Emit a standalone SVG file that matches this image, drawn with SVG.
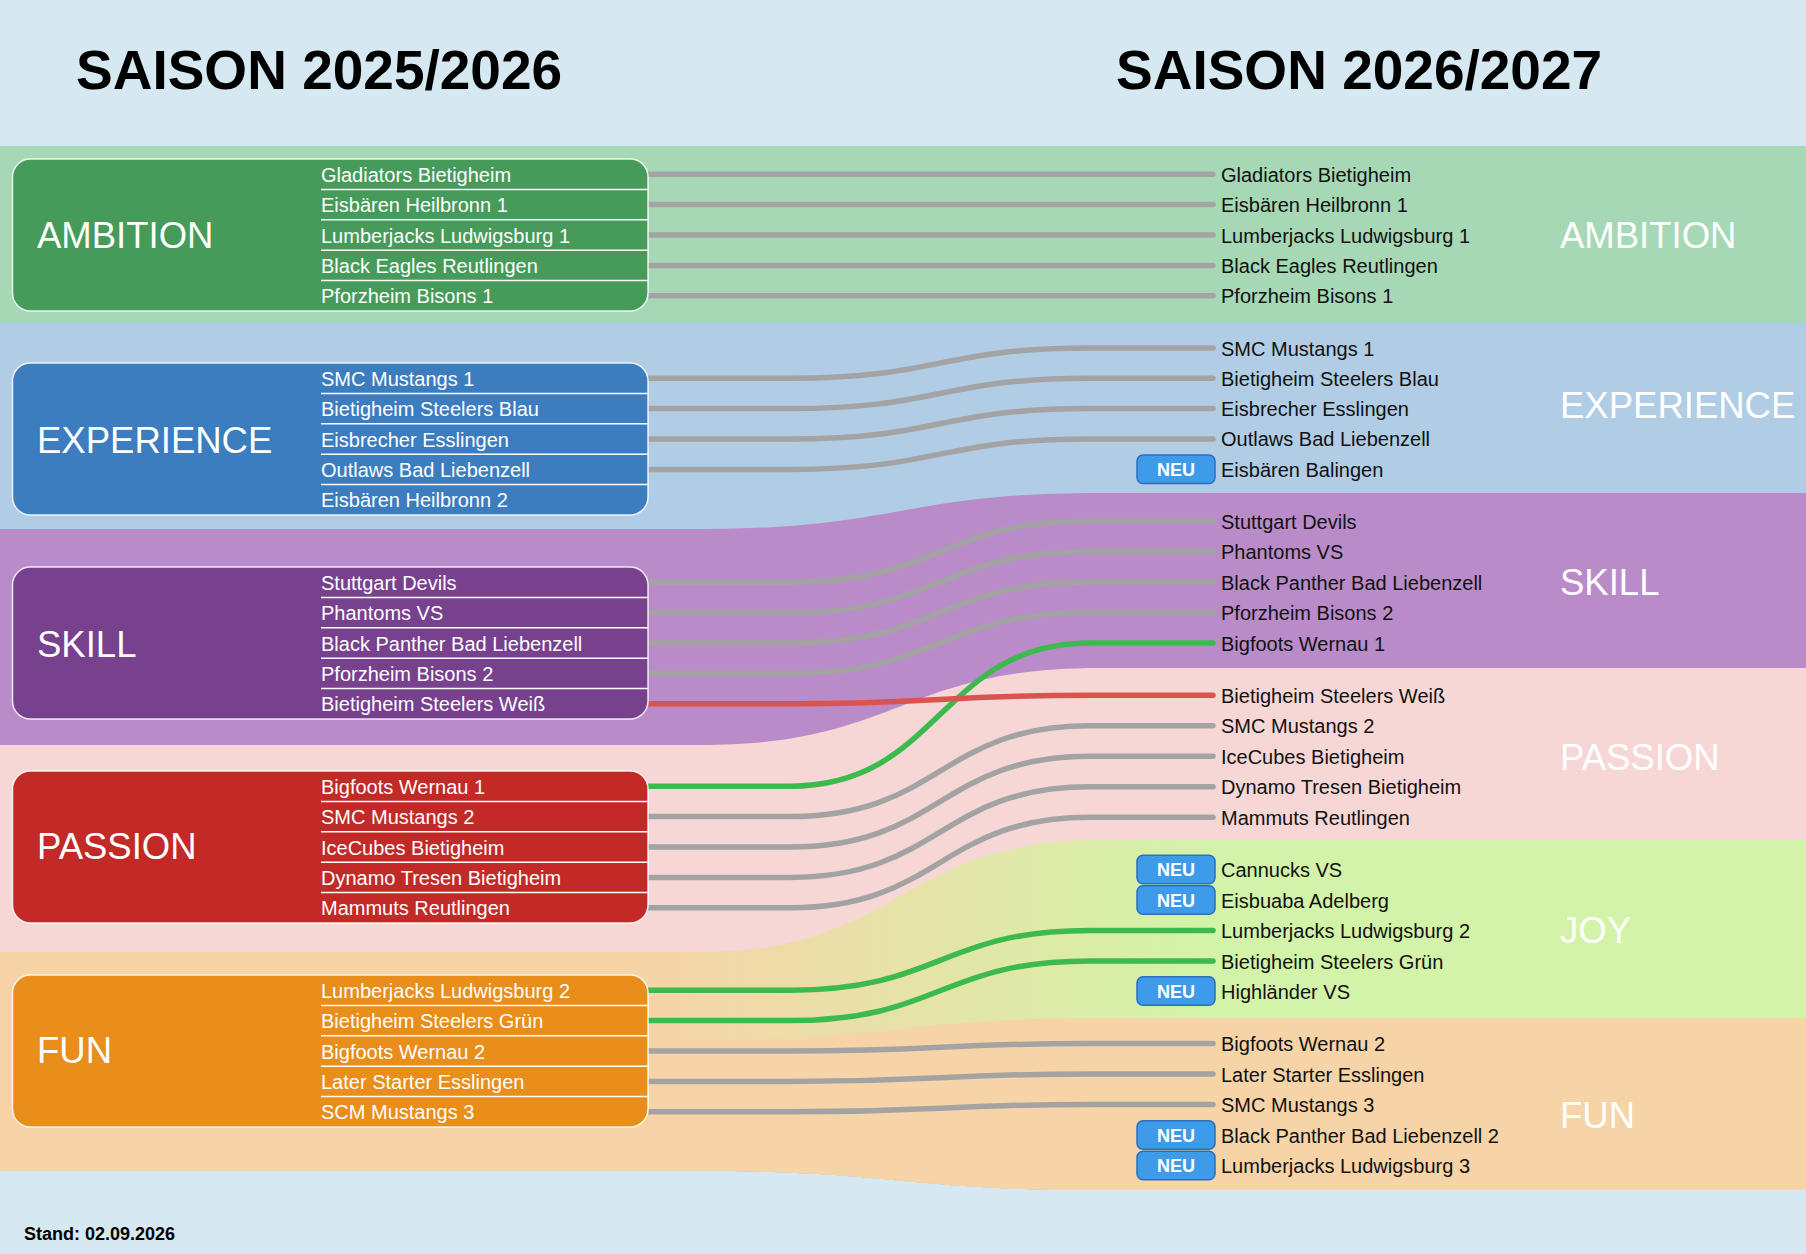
<svg xmlns="http://www.w3.org/2000/svg" width="1806" height="1254" viewBox="0 0 1806 1254">
<defs>
<linearGradient id="joyGrad" gradientUnits="userSpaceOnUse" x1="650" y1="0" x2="1200" y2="0">
<stop offset="0" stop-color="#f6d4a8"/>
<stop offset="1" stop-color="#d3f3a8"/>
</linearGradient>
<style>
text{font-family:"Liberation Sans",Arial,Helvetica,sans-serif}
.title{font-size:55px;font-weight:bold;fill:#000}
.stand{font-size:18px;font-weight:bold;fill:#000}
.grp{font-size:36.5px;fill:#fff}
.tl{font-size:20px;fill:#fff}
.tr{font-size:20px;fill:#111}
.box{stroke:#ffffff;stroke-opacity:0.85;stroke-width:1.5}
.sep{stroke:#ffffff;stroke-width:1.5}
.con{fill:none;stroke-width:5.5;stroke-linecap:round}
.gray{stroke:#a3a3a3}
.green{stroke:#3dba4e}
.red{stroke:#d9534f}
.neu rect{fill:#3d9be9;stroke:#2b6fbf;stroke-width:1.5}
.neu text{font-size:18px;font-weight:bold;fill:#fff;text-anchor:middle}
</style>
</defs>
<rect width="1806" height="1254" fill="#d6e8f2"/>

<g id="bands">
<path d="M0,146 H1806 V1190 H1100 C900,1190 900,1171 700,1171 H0 Z" fill="#a6d8b6"/>
<path d="M0,323 H1806 V1190 H1100 C900,1190 900,1171 700,1171 H0 Z" fill="#b0cde5"/>
<path d="M0,529 H700 C900,529 900,493 1100,493 H1806 V1190 H1100 C900,1190 900,1171 700,1171 H0 Z" fill="#b98cc9"/>
<path d="M0,745 H700 C900,745 900,668 1100,668 H1806 V1190 H1100 C900,1190 900,1171 700,1171 H0 Z" fill="#f6d7d6"/>
<path d="M0,952 H700 C900,952 900,840 1100,840 H1806 V1190 H1100 C900,1190 900,1171 700,1171 H0 Z" fill="url(#joyGrad)"/>
<path d="M0,1040 H700 C900,1040 900,1018 1100,1018 H1806 V1190 H1100 C900,1190 900,1171 700,1171 H0 Z" fill="#f6d4a8"/>
</g>

<g id="titles">
<text class="title" x="76" y="89">SAISON 2025/2026</text>
<text class="title" x="1116" y="89">SAISON 2026/2027</text>
<text class="stand" x="24" y="1240">Stand: 02.09.2026</text>
</g>

<g id="connectors">
<path class="con gray" d="M645,174.2 H1213"/>
<path class="con gray" d="M645,204.6 H1213"/>
<path class="con gray" d="M645,235 H1213"/>
<path class="con gray" d="M645,265.4 H1213"/>
<path class="con gray" d="M645,295.8 H1213"/>
<path class="con gray" d="M645,378.2 H790 C940,378.2 940,348 1090,348 H1213"/>
<path class="con gray" d="M645,408.6 H790 C940,408.6 940,378.3 1090,378.3 H1213"/>
<path class="con gray" d="M645,439 H790 C940,439 940,408.6 1090,408.6 H1213"/>
<path class="con gray" d="M645,469.4 H790 C940,469.4 940,438.9 1090,438.9 H1213"/>
<path class="con gray" d="M645,582.2 H790 C940,582.2 940,521 1090,521 H1213"/>
<path class="con gray" d="M645,612.6 H790 C940,612.6 940,551.5 1090,551.5 H1213"/>
<path class="con gray" d="M645,643 H790 C940,643 940,582 1090,582 H1213"/>
<path class="con gray" d="M645,673.4 H790 C940,673.4 940,612.5 1090,612.5 H1213"/>
<path class="con green" d="M645,786.2 H790 C940,786.2 940,643 1090,643 H1213"/>
<path class="con gray" d="M645,816.6 H790 C940,816.6 940,725.8 1090,725.8 H1213"/>
<path class="con gray" d="M645,847 H790 C940,847 940,756.3 1090,756.3 H1213"/>
<path class="con gray" d="M645,877.4 H790 C940,877.4 940,786.8 1090,786.8 H1213"/>
<path class="con gray" d="M645,907.8 H790 C940,907.8 940,817.3 1090,817.3 H1213"/>
<path class="con red" d="M645,703.8 H790 C940,703.8 940,695.3 1090,695.3 H1213"/>
<path class="con green" d="M645,990.2 H790 C940,990.2 940,930.5 1090,930.5 H1213"/>
<path class="con green" d="M645,1020.6 H790 C940,1020.6 940,961 1090,961 H1213"/>
<path class="con gray" d="M645,1051 H790 C940,1051 940,1043.5 1090,1043.5 H1213"/>
<path class="con gray" d="M645,1081.4 H790 C940,1081.4 940,1074 1090,1074 H1213"/>
<path class="con gray" d="M645,1111.8 H790 C940,1111.8 940,1104.5 1090,1104.5 H1213"/>
</g>

<g id="box-ambition">
<rect class="box" x="12.5" y="159" width="635.5" height="152" rx="18" fill="#469b5b"/>
<path class="sep" d="M321,189.4 H648 M321,219.8 H648 M321,250.2 H648 M321,280.6 H648"/>
<text class="grp" x="37" y="247.5">AMBITION</text>
<text class="tl" x="321" y="181.7">Gladiators Bietigheim</text>
<text class="tl" x="321" y="212.1">Eisbären Heilbronn 1</text>
<text class="tl" x="321" y="242.5">Lumberjacks Ludwigsburg 1</text>
<text class="tl" x="321" y="272.9">Black Eagles Reutlingen</text>
<text class="tl" x="321" y="303.3">Pforzheim Bisons 1</text>
</g>

<g id="box-experience">
<rect class="box" x="12.5" y="363" width="635.5" height="152" rx="18" fill="#3c7dbf"/>
<path class="sep" d="M321,393.4 H648 M321,423.8 H648 M321,454.2 H648 M321,484.6 H648"/>
<text class="grp" x="37" y="452.5">EXPERIENCE</text>
<text class="tl" x="321" y="385.7">SMC Mustangs 1</text>
<text class="tl" x="321" y="416.1">Bietigheim Steelers Blau</text>
<text class="tl" x="321" y="446.5">Eisbrecher Esslingen</text>
<text class="tl" x="321" y="476.9">Outlaws Bad Liebenzell</text>
<text class="tl" x="321" y="507.3">Eisbären Heilbronn 2</text>
</g>

<g id="box-skill">
<rect class="box" x="12.5" y="567" width="635.5" height="152" rx="18" fill="#77418e"/>
<path class="sep" d="M321,597.4 H648 M321,627.8 H648 M321,658.2 H648 M321,688.6 H648"/>
<text class="grp" x="37" y="656.5">SKILL</text>
<text class="tl" x="321" y="589.7">Stuttgart Devils</text>
<text class="tl" x="321" y="620.1">Phantoms VS</text>
<text class="tl" x="321" y="650.5">Black Panther Bad Liebenzell</text>
<text class="tl" x="321" y="680.9">Pforzheim Bisons 2</text>
<text class="tl" x="321" y="711.3">Bietigheim Steelers Weiß</text>
</g>

<g id="box-passion">
<rect class="box" x="12.5" y="771" width="635.5" height="152" rx="18" fill="#c12a27"/>
<path class="sep" d="M321,801.4 H648 M321,831.8 H648 M321,862.2 H648 M321,892.6 H648"/>
<text class="grp" x="37" y="858.5">PASSION</text>
<text class="tl" x="321" y="793.7">Bigfoots Wernau 1</text>
<text class="tl" x="321" y="824.1">SMC Mustangs 2</text>
<text class="tl" x="321" y="854.5">IceCubes Bietigheim</text>
<text class="tl" x="321" y="884.9">Dynamo Tresen Bietigheim</text>
<text class="tl" x="321" y="915.3">Mammuts Reutlingen</text>
</g>

<g id="box-fun">
<rect class="box" x="12.5" y="975" width="635.5" height="152" rx="18" fill="#e98d1b"/>
<path class="sep" d="M321,1005.4 H648 M321,1035.8 H648 M321,1066.2 H648 M321,1096.6 H648"/>
<text class="grp" x="37" y="1062.5">FUN</text>
<text class="tl" x="321" y="997.7">Lumberjacks Ludwigsburg 2</text>
<text class="tl" x="321" y="1028.1">Bietigheim Steelers Grün</text>
<text class="tl" x="321" y="1058.5">Bigfoots Wernau 2</text>
<text class="tl" x="321" y="1088.9">Later Starter Esslingen</text>
<text class="tl" x="321" y="1119.3">SCM Mustangs 3</text>
</g>

<g id="right-ambition">
<text class="grp" x="1560" y="247.5">AMBITION</text>
<text class="tr" x="1221" y="181.7">Gladiators Bietigheim</text>
<text class="tr" x="1221" y="212.1">Eisbären Heilbronn 1</text>
<text class="tr" x="1221" y="242.5">Lumberjacks Ludwigsburg 1</text>
<text class="tr" x="1221" y="272.9">Black Eagles Reutlingen</text>
<text class="tr" x="1221" y="303.3">Pforzheim Bisons 1</text>
</g>

<g id="right-experience">
<text class="grp" x="1560" y="417.5">EXPERIENCE</text>
<text class="tr" x="1221" y="355.5">SMC Mustangs 1</text>
<text class="tr" x="1221" y="385.8">Bietigheim Steelers Blau</text>
<text class="tr" x="1221" y="416.1">Eisbrecher Esslingen</text>
<text class="tr" x="1221" y="446.4">Outlaws Bad Liebenzell</text>
<g class="neu"><rect x="1137" y="455" width="78" height="28.5" rx="6"/><text x="1176" y="475.7">NEU</text></g>
<text class="tr" x="1221" y="476.7">Eisbären Balingen</text>
</g>

<g id="right-skill">
<text class="grp" x="1560" y="594.5">SKILL</text>
<text class="tr" x="1221" y="528.5">Stuttgart Devils</text>
<text class="tr" x="1221" y="559">Phantoms VS</text>
<text class="tr" x="1221" y="589.5">Black Panther Bad Liebenzell</text>
<text class="tr" x="1221" y="620">Pforzheim Bisons 2</text>
<text class="tr" x="1221" y="650.5">Bigfoots Wernau 1</text>
</g>

<g id="right-passion">
<text class="grp" x="1560" y="769.5">PASSION</text>
<text class="tr" x="1221" y="702.8">Bietigheim Steelers Weiß</text>
<text class="tr" x="1221" y="733.3">SMC Mustangs 2</text>
<text class="tr" x="1221" y="763.8">IceCubes Bietigheim</text>
<text class="tr" x="1221" y="794.3">Dynamo Tresen Bietigheim</text>
<text class="tr" x="1221" y="824.8">Mammuts Reutlingen</text>
</g>

<g id="right-joy">
<text class="grp" x="1560" y="942.5">JOY</text>
<g class="neu"><rect x="1137" y="855.3" width="78" height="28.5" rx="6"/><text x="1176" y="876">NEU</text></g>
<text class="tr" x="1221" y="877">Cannucks VS</text>
<g class="neu"><rect x="1137" y="885.8" width="78" height="28.5" rx="6"/><text x="1176" y="906.5">NEU</text></g>
<text class="tr" x="1221" y="907.5">Eisbuaba Adelberg</text>
<text class="tr" x="1221" y="938">Lumberjacks Ludwigsburg 2</text>
<text class="tr" x="1221" y="968.5">Bietigheim Steelers Grün</text>
<g class="neu"><rect x="1137" y="976.8" width="78" height="28.5" rx="6"/><text x="1176" y="997.5">NEU</text></g>
<text class="tr" x="1221" y="998.5">Highländer VS</text>
</g>

<g id="right-fun">
<text class="grp" x="1560" y="1127.5">FUN</text>
<text class="tr" x="1221" y="1051">Bigfoots Wernau 2</text>
<text class="tr" x="1221" y="1081.5">Later Starter Esslingen</text>
<text class="tr" x="1221" y="1112">SMC Mustangs 3</text>
<g class="neu"><rect x="1137" y="1120.8" width="78" height="28.5" rx="6"/><text x="1176" y="1141.5">NEU</text></g>
<text class="tr" x="1221" y="1142.5">Black Panther Bad Liebenzell 2</text>
<g class="neu"><rect x="1137" y="1151.3" width="78" height="28.5" rx="6"/><text x="1176" y="1172">NEU</text></g>
<text class="tr" x="1221" y="1173">Lumberjacks Ludwigsburg 3</text>
</g>
</svg>
